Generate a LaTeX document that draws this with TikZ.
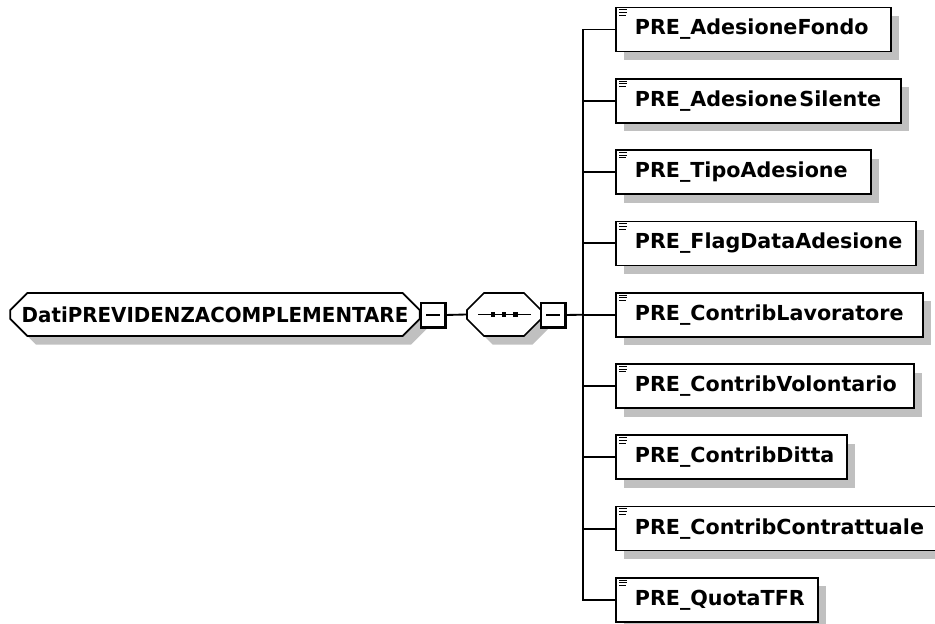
\documentclass[tikz,border=0pt]{standalone}
\usepackage{fontspec}
\setmainfont{DejaVu Sans}
\usetikzlibrary{shapes.misc,shadows}

\definecolor{shadowgray}{RGB}{192,192,192}

\tikzset{
  elfont/.style={font=\bfseries\fontsize{15.5}{18}\selectfont},
  schadow/.style={drop shadow={shadow xshift=6.4pt,shadow yshift=-6.4pt,fill=shadowgray,opacity=1}},
  octabox/.style={chamfered rectangle,chamfered rectangle xsep=6.75pt,chamfered rectangle ysep=6.75pt,
    draw,line width=1.3pt,fill=white,minimum height=32.25pt,inner sep=0pt,schadow,elfont},
  childbox/.style={rectangle,draw,line width=1.3pt,fill=white,minimum height=33pt,inner xsep=14.25pt,
    inner ysep=0pt,align=left,anchor=west,schadow,elfont},
  minusbox/.style={rectangle,draw,line width=1pt,fill=white,minimum width=18pt,minimum height=18pt,inner sep=0pt},
  conn/.style={line width=1.4pt}
}

\newcommand{\minusmark}[1]{%
  \draw [line width=2.2pt] (#1.north east) -- (#1.south east) -- (#1.south west);
  \draw [line width=1pt] ([xshift=-5.2pt]#1.center) -- ([xshift=5.2pt]#1.center);
}
\newcommand{\listicon}[1]{%
  \draw [line width=0.7pt] ([xshift=3pt,yshift=2.4pt]#1.north west) -- ++(6pt,0)
    ([xshift=3pt,yshift=4.4pt]#1.north west) -- ++(6pt,0)
    ([xshift=3pt,yshift=6.4pt]#1.north west) -- ++(5pt,0);
}

\begin{document}
\begin{tikzpicture}[x=0.75pt,y=0.75pt,yscale=-1,xscale=1]
\useasboundingbox (0,0) rectangle (935,624);

% Main element
\node [octabox,minimum width=307pt] (dati) at (215,314.5) {\scalebox{0.96}[1]{DatiPREVIDENZACOMPLEMENTARE}};
% Minus box of main element
\node [minusbox] (mdati) at (433,315) {};
\minusmark{mdati}

% Sequence compositor
\node [octabox,minimum width=55.5pt] (seq) at (504,314.5) {\rule{0pt}{12pt}\hspace*{40pt}};
\node [minusbox] (mseq) at (553,315) {};
\minusmark{mseq}
\draw [line width=1pt] ([xshift=-19.5pt]seq.center) -- ([xshift=20pt]seq.center);
\fill ([xshift=-8.25pt]seq.center) ++(-1.8pt,-1.8pt) rectangle ++(3.6pt,3.6pt);
\fill (seq.center) ++(-1.8pt,-1.8pt) rectangle ++(3.6pt,3.6pt);
\fill ([xshift=8.75pt]seq.center) ++(-1.8pt,-1.8pt) rectangle ++(3.6pt,3.6pt);

% Child elements
\node [childbox,text width=177.75pt] (fondo) at (615,29.5) {PRE\_AdesioneFondo};
\node [childbox,text width=185.25pt] (silente) at (615,100.8) {PRE\_Adesione\kern1.5pt Silente};
\node [childbox,text width=162.75pt] (tipo) at (615,172.1) {PRE\_TipoAdesione};
\node [childbox,text width=196.5pt] (flag) at (615,243.4) {PRE\_FlagDataAdesione};
\node [childbox,text width=201.75pt] (lavor) at (615,314.7) {PRE\_ContribLavoratore};
\node [childbox,text width=195pt] (volont) at (615,386) {PRE\_ContribVolontario};
\node [childbox,text width=144.75pt] (ditta) at (615,457.3) {PRE\_ContribDitta};
\node [childbox,text width=217.5pt] (contratt) at (615,528.6) {PRE\_ContribContrattuale};
\node [childbox,text width=123pt] (tfr) at (615,599.9) {PRE\_QuotaTFR};

% List icons
\listicon{fondo}
\listicon{silente}
\listicon{tipo}
\listicon{flag}
\listicon{lavor}
\listicon{volont}
\listicon{ditta}
\listicon{contratt}
\listicon{tfr}

% Connectors
\coordinate (bus) at (583,314.7);
\draw [conn] (mdati.east) -- (seq.west);
\draw [conn] (mseq.east) -- (bus);
\draw [conn] (bus) |- (fondo.west);
\draw [conn] (bus) |- (silente.west);
\draw [conn] (bus) |- (tipo.west);
\draw [conn] (bus) |- (flag.west);
\draw [conn] (bus) -- (lavor.west);
\draw [conn] (bus) |- (volont.west);
\draw [conn] (bus) |- (ditta.west);
\draw [conn] (bus) |- (contratt.west);
\draw [conn] (bus) |- (tfr.west);

\end{tikzpicture}
\end{document}
